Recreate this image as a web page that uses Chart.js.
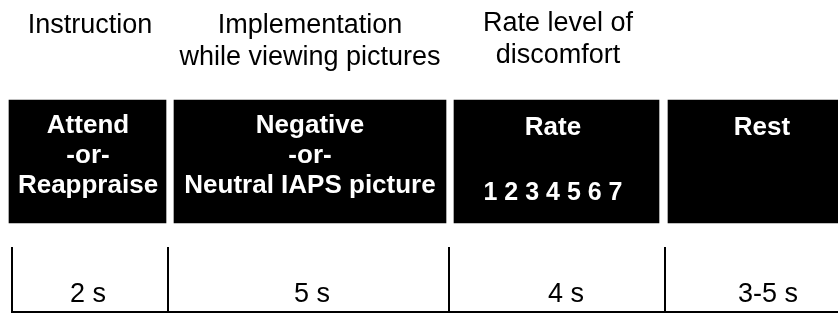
<!DOCTYPE html>
<html>
<head>
<meta charset="utf-8">
<script src="https://cdn.jsdelivr.net/npm/chart.js@4/dist/chart.umd.min.js"></script>
<style>
  html, body { margin: 0; padding: 0; background: #ffffff; }
  #wrap { width: 838px; height: 314px; }
</style>
</head>
<body>
<div id="wrap"><canvas id="c" width="838" height="314"></canvas></div>
<script>
// ---- data ----
const phases = ['Instruction', 'Implementation', 'Rating', 'Rest'];
const headerLines = [['Instruction'], ['Implementation', 'while viewing pictures'], ['Rate level of', 'discomfort'], []];
const screenLines = [['Attend', '-or-', 'Reappraise'], ['Negative', '-or-', 'Neutral IAPS picture'], ['Rate', '1 2 3 4 5 6 7'], ['Rest']];
const durationLabels = ['2 s', '5 s', '4 s', '3-5 s'];
// screen boxes along the (schematic) timeline axis
const boxStart = [9, 174, 454, 668];
const boxEnd = [166, 446, 659, 838];
// timeline tick marks (onset of each phase)
const tickPos = [12, 168, 449, 665];
const timelineEnd = 838;

// ---- layout (positions in axis units, kept apart from data) ----
const screenTop = 100, screenBottom = 223;
const headerX = [90, 310, 558, 0];
const headerY = [[33], [33, 65], [31, 63], []];
const screenX = [88, 310, 553, 762];
const screenY = [[133, 163, 193], [133, 163, 193], [135, 200], [135]];
const screenFontSize = [[26, 26, 26], [26, 26, 26], [26, 25], [26]];
const durationX = [88, 312, 566, 768];
const durationY = 302;
const tickTop = 247, baseline = 312;

const boxData = boxStart.map((s, i) => ({ x: [s, boxEnd[i]], y: (screenTop + screenBottom) / 2 }));

const datasets = [{
  type: 'bar',
  label: 'screens',
  indexAxis: 'y',
  data: boxData,
  backgroundColor: '#000000',
  borderWidth: 0,
  barThickness: screenBottom - screenTop,
  clip: false
}];
tickPos.forEach((t, i) => {
  datasets.push({
    type: 'line', label: 'tick' + i,
    data: [{ x: t, y: tickTop }, { x: t, y: baseline }],
    borderColor: '#000', borderWidth: 2, pointRadius: 0, fill: false, clip: false
  });
});
datasets.push({
  type: 'line', label: 'timeline',
  data: [{ x: tickPos[0] - 1, y: baseline }, { x: timelineEnd, y: baseline }],
  borderColor: '#000', borderWidth: 2, pointRadius: 0, fill: false, clip: false
});

const FONT = '"Liberation Sans", Arial, Helvetica, sans-serif';

const textPlugin = {
  id: 'schematicText',
  afterDatasetsDraw(chart) {
    const { ctx, scales: { x, y } } = chart;
    ctx.save();
    ctx.textAlign = 'center';
    ctx.textBaseline = 'alphabetic';
    ctx.fillStyle = '#000';
    ctx.font = '27px ' + FONT;
    headerLines.forEach((lines, i) => {
      lines.forEach((t, j) => ctx.fillText(t, x.getPixelForValue(headerX[i]), y.getPixelForValue(headerY[i][j])));
    });
    ctx.fillStyle = '#fff';
    screenLines.forEach((lines, i) => {
      lines.forEach((t, j) => {
        ctx.font = 'bold ' + screenFontSize[i][j] + 'px ' + FONT;
        ctx.fillText(t, x.getPixelForValue(screenX[i]), y.getPixelForValue(screenY[i][j]));
      });
    });
    ctx.fillStyle = '#000';
    ctx.font = '27px ' + FONT;
    durationLabels.forEach((t, i) => ctx.fillText(t, x.getPixelForValue(durationX[i]), y.getPixelForValue(durationY)));
    ctx.restore();
  }
};

new Chart(document.getElementById('c'), {
  type: 'bar',
  data: { datasets },
  options: {
    responsive: false,
    animation: false,
    layout: { padding: 0 },
    plugins: { legend: { display: false }, tooltip: { enabled: false } },
    scales: {
      x: { type: 'linear', min: 0, max: 838, display: false, offset: false, grace: 0 },
      y: { type: 'linear', min: 0, max: 314, reverse: true, display: false, offset: false, grace: 0 }
    }
  },
  plugins: [textPlugin]
});
</script>
</body>
</html>
